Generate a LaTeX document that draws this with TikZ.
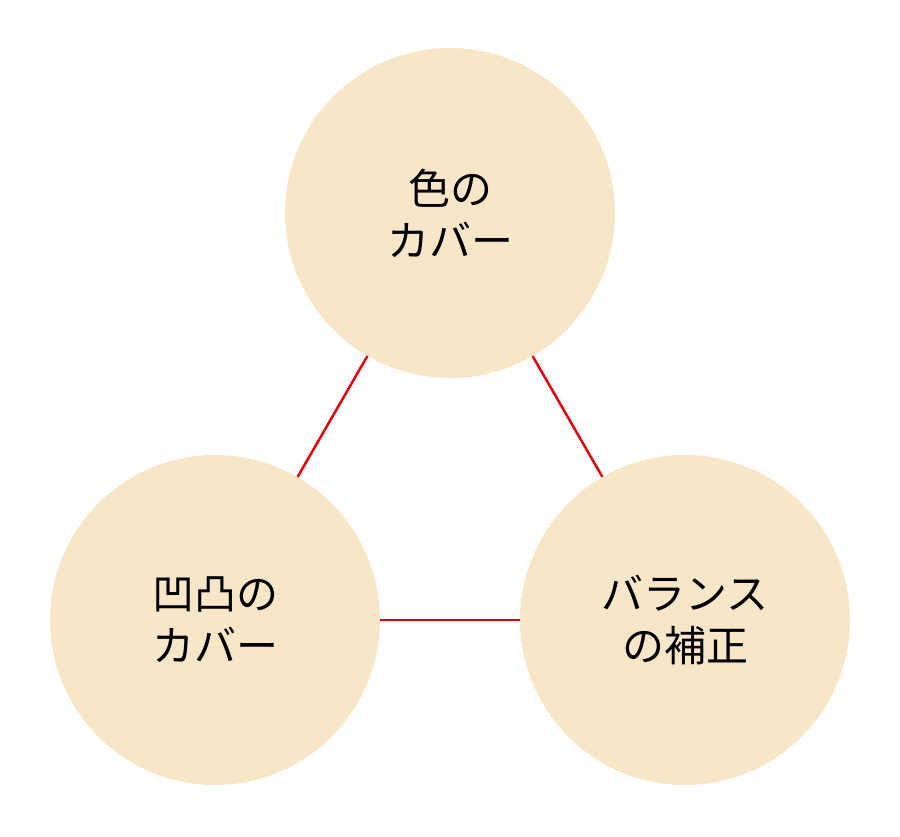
\documentclass[tikz,border=0pt]{standalone}
\usepackage{fontspec}
\newfontfamily\cjk{Noto Sans CJK JP}
\definecolor{cream}{HTML}{F8E6C9}
\definecolor{linered}{HTML}{E00012}
\begin{document}
\begin{tikzpicture}[x=1pt,y=-1pt,
  bub/.style={circle,fill=cream,minimum size=330pt,inner sep=0pt,align=center,font=\cjk\fontsize{42}{52}\selectfont},
  link/.style={draw=linered,line width=2.5pt}]
\useasboundingbox (0,0) rectangle (900,837);
\node[bub] (top) at (450,213) {色の\\カバー};
\node[bub] (left) at (215,620) {凹凸の\\カバー};
\node[bub] (right) at (685,620) {バランス\\の補正};
\draw[link] (top) -- (left);
\draw[link] (top) -- (right);
\draw[link] (left) -- (right);
\end{tikzpicture}
\end{document}
